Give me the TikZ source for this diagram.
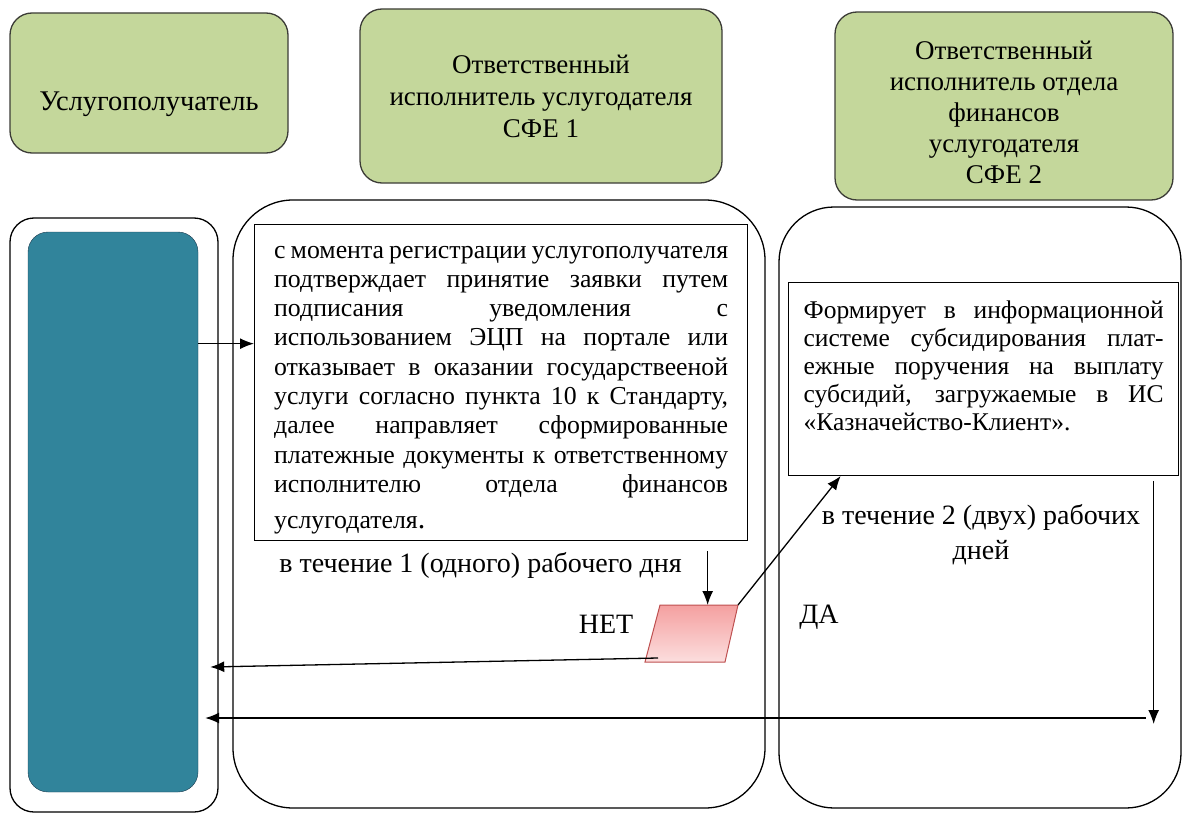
\documentclass[tikz,border=0pt]{standalone}
\usepackage{fontspec}
\setmainfont{Liberation Serif}
\usepackage{xcolor}
\usetikzlibrary{arrows.meta}
\usetikzlibrary{calc}
\usetikzlibrary{positioning}

\definecolor{hdrgreen}{RGB}{196,215,155}
\definecolor{hdrline}{RGB}{60,60,55}
\definecolor{clientteal}{RGB}{49,132,155}
\definecolor{clientline}{RGB}{30,60,80}
\definecolor{pinktop}{RGB}{244,160,160}
\definecolor{pinkbot}{RGB}{252,222,222}
\definecolor{pinkline}{RGB}{190,80,80}

\tikzset{
  hdr/.style={draw=hdrline, line width=1.3pt, fill=hdrgreen, rounded corners=22pt,
    align=center, font=\fontsize{27}{32}\selectfont},
  lane/.style={draw, line width=1.3pt, inner sep=0pt},
  stepbox/.style={draw, line width=1.3pt, align=justify, anchor=north west},
  lbl/.style={font=\fontsize{28}{35}\selectfont, align=center, inner sep=0pt},
  arr/.style={line width=1.3pt, -{Latex[length=14pt,width=11pt]}}
}

\begin{document}
\begin{tikzpicture}[x=1pt,y=-1pt]
  \useasboundingbox (0,0) rectangle (1183,816);

  % headers
  \node[hdr, minimum width=278pt, minimum height=140pt, font=\fontsize{28.5}{32}\selectfont]
    (hdrA) at (149,83) {\raisebox{-28pt}[0pt][0pt]{Услугополучатель}};
  \node[hdr, minimum width=362pt, minimum height=174pt] (hdrB) at (541,96)
    {Ответственный\\исполнитель услугодателя\\СФЕ 1};
  \node[hdr, minimum width=338pt, minimum height=188pt, font=\fontsize{27}{31}\selectfont]
    (hdrC) at (1004,106) {\rule{0pt}{31pt}Ответственный\\исполнитель отдела\\финансов\\услугодателя\\СФЕ 2};

  % lanes
  \node[lane, rounded corners=24pt, minimum width=208pt, minimum height=594pt] (laneA) at (114,515) {};
  \node[lane, rounded corners=60pt, minimum width=532pt, minimum height=608pt] (laneB) at (499,504) {};
  \node[lane, rounded corners=55pt, minimum width=402pt, minimum height=601pt] (laneC) at (980,507.5) {};

  \node[draw=clientline, fill=clientteal, rounded corners=20pt, minimum width=170pt,
    minimum height=560pt] (client) at (113,512) {};

  % steps
  \node[stepbox, text width=454pt, inner xsep=19.5pt, inner ysep=4pt, minimum height=316pt,
    font=\fontsize{25.8}{29.3}\selectfont] (step1) at (254,224)
    {\rule{0pt}{27pt}с момента регистрации услугополучателя\linebreak
     подтверждает принятие заявки путем\linebreak
     подписания уведомления с\linebreak
     использованием ЭЦП на портале или\linebreak
     отказывает в оказании государствееной\linebreak
     услуги согласно пункта 10 к Стандарту,\linebreak
     далее направляет сформированные\linebreak
     платежные документы к ответственному\linebreak
     исполнителю отдела финансов\vspace{7pt}\linebreak
     услугодателя{\fontsize{30}{29.3}\selectfont .}};
  \node[stepbox, text width=360pt, inner xsep=15pt, inner ysep=18pt,
    font=\fontsize{25.5}{28}\selectfont] (step2) at (788,282)
    {Формирует в информационной\linebreak
     системе субсидирования плат-\linebreak
     ежные поручения на выплату\linebreak
     субсидий, загружаемые в ИС\linebreak
     «Казначейство-Клиент».\rule[-27pt]{0pt}{1pt}};

  % decision
  \coordinate (choiceTL) at (660,605);
  \coordinate (choiceTR) at (738,605);
  \coordinate (choiceBR) at (725,662);
  \coordinate (choiceBL) at (645,662);
  \draw[pinkline, line width=1pt, top color=pinktop, bottom color=pinkbot]
    (choiceBL) -- (choiceTL) -- (choiceTR) -- (choiceBR) -- cycle;

  % labels
  \node[lbl] (term1) at (480.5,565) {в течение 1 (одного) рабочего дня};
  \node[lbl] (term2) at (981,535) {в течение 2 (двух) рабочих\\дней};
  \node[lbl] (no) at (606,624) {НЕТ};
  \node[lbl] (yes) at (819,617) {ДА};

  % arrows
  \coordinate (in1) at ([yshift=39pt]step1.west);
  \coordinate (out1) at ([xshift=206.5pt]step1.south);
  \coordinate (in2) at ([xshift=-143pt]step2.south);
  \coordinate (out2) at ([xshift=170pt]step2.south);
  \coordinate (back1) at ([shift={(12pt,-155pt)}]client.east);
  \coordinate (back2) at ([shift={(7pt,-206pt)}]client.east);

  \draw[arr] (client.east |- in1) -- (in1);
  \draw[arr] ([yshift=-10pt]out1) -- (out1 |- choiceTL);
  \draw[arr] (choiceTR) -- (in2);
  \draw[arr] ([shift={(13pt,4pt)}]choiceBL) -- (back1);
  \draw[arr] ([yshift=-5pt]out2) -- ([yshift=-6pt]out2 |- back2);
  \draw[arr] ([xshift=-8pt]out2 |- back2) -- (back2);
\end{tikzpicture}
\end{document}
